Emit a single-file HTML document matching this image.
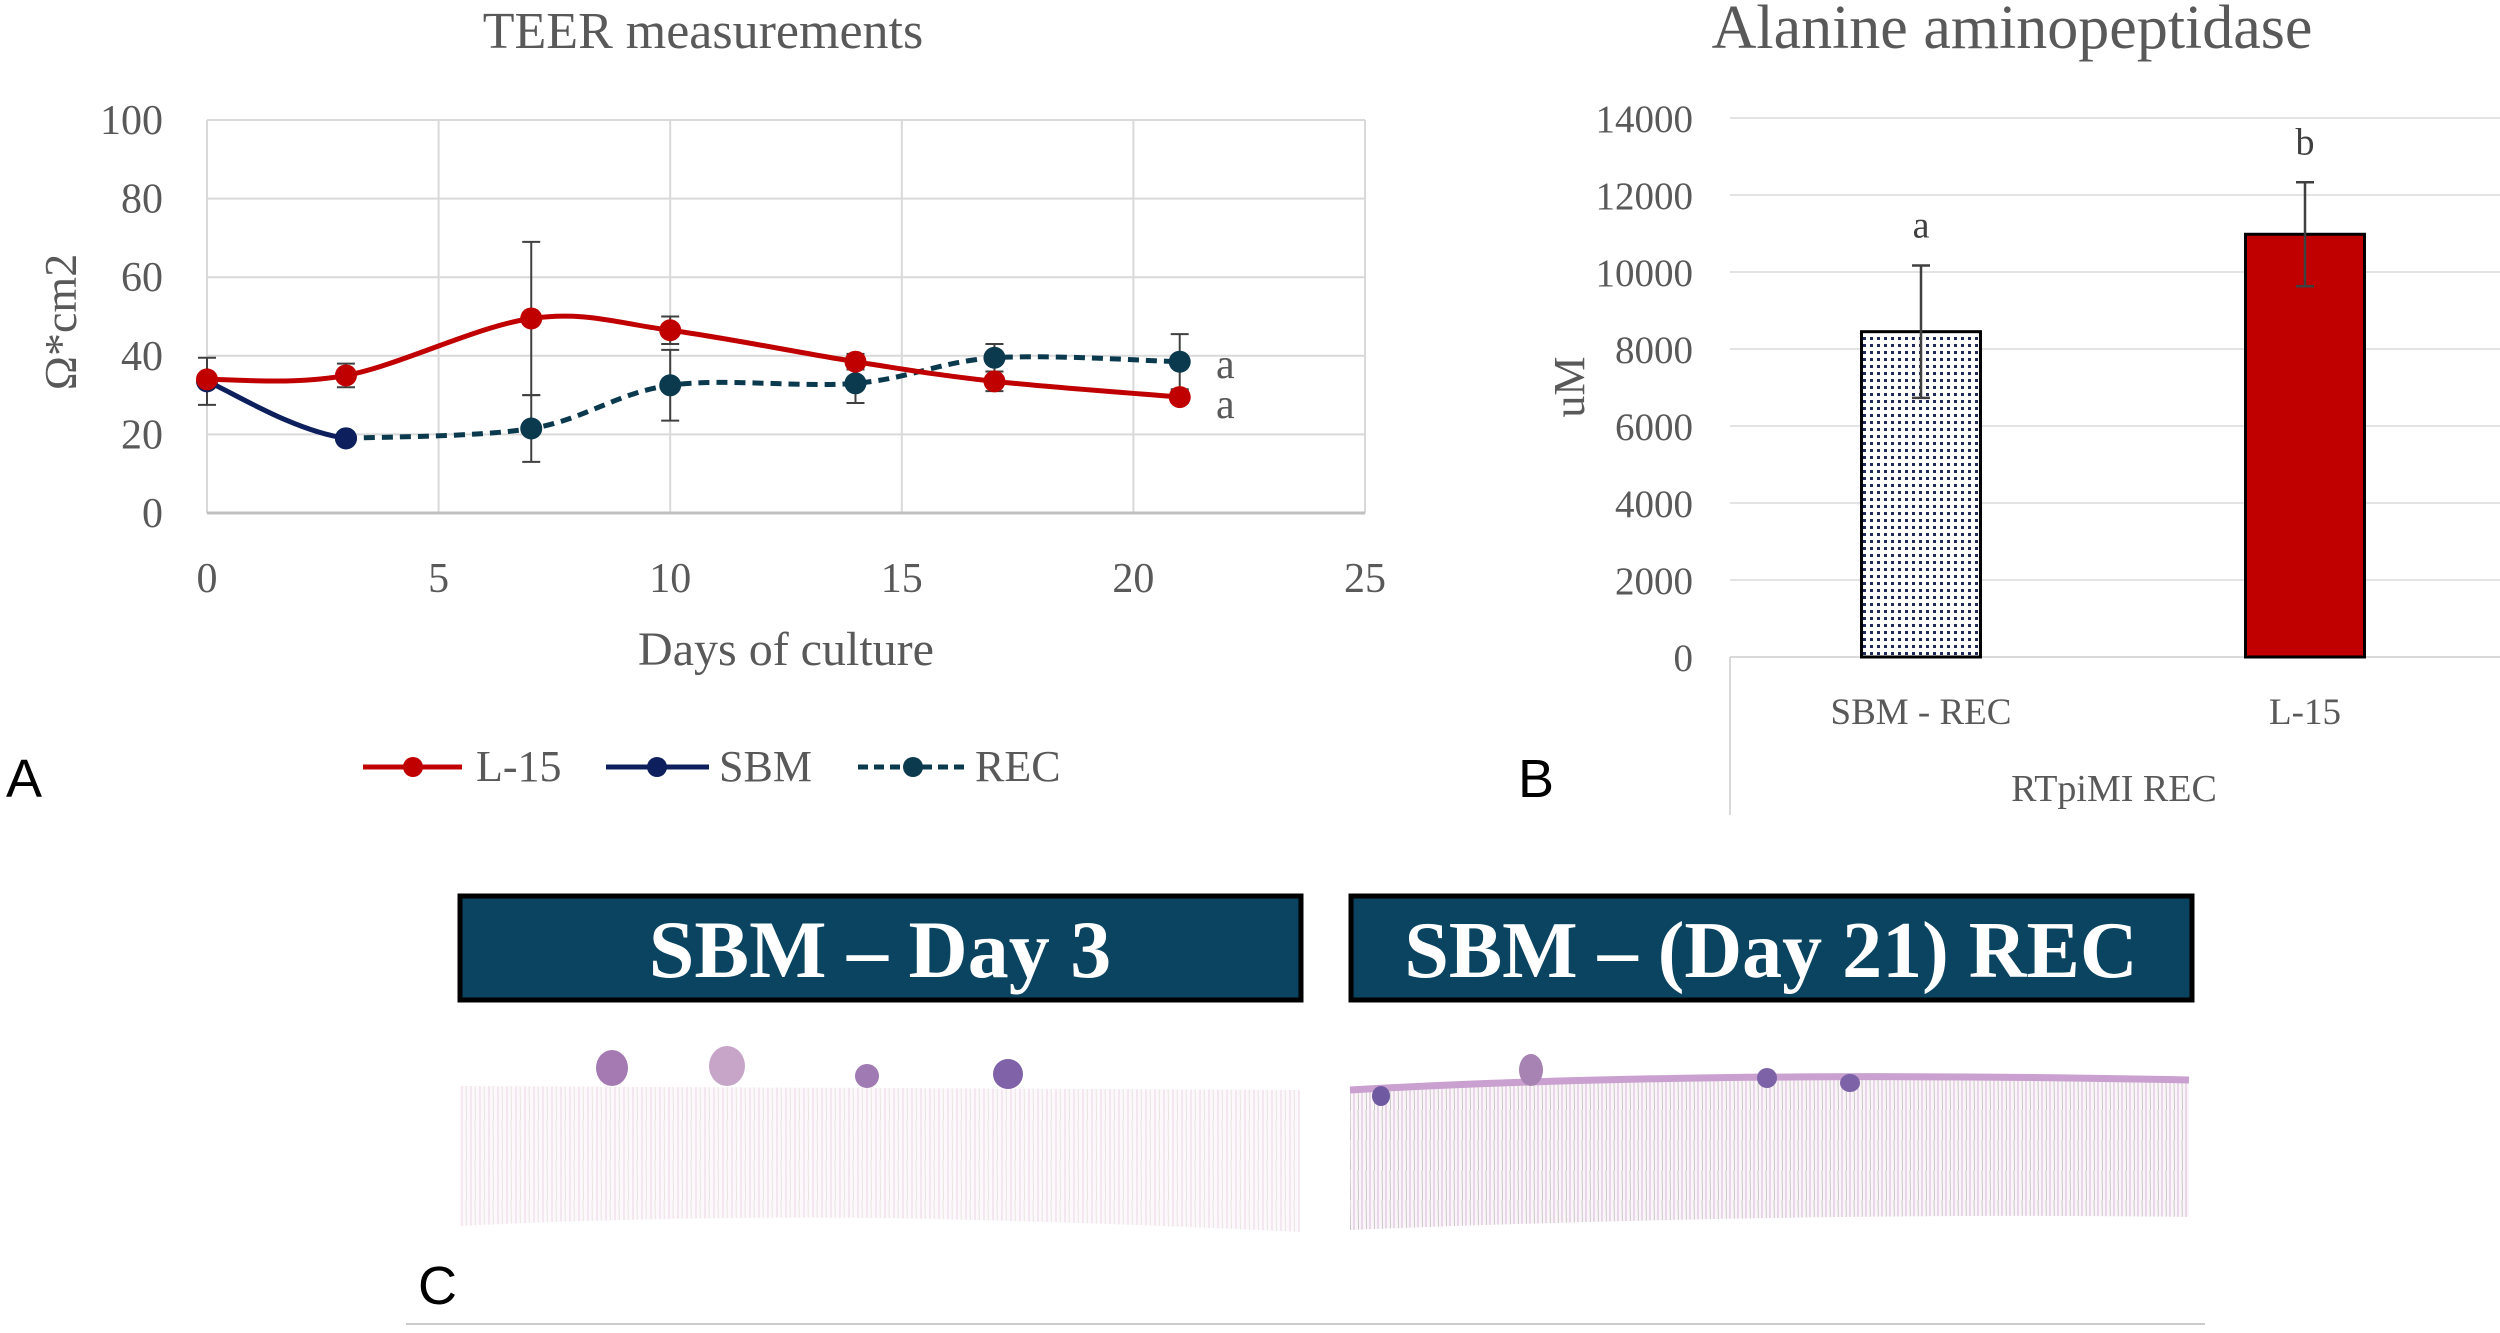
<!DOCTYPE html>
<html><head><meta charset="utf-8">
<style>
html,body{margin:0;padding:0;background:#fff;}
svg{display:block;font-family:"Liberation Serif",serif;}
</style></head>
<body>
<svg id="fig" width="2500" height="1333" viewBox="0 0 2500 1333" xmlns="http://www.w3.org/2000/svg">
<defs>
<pattern id="dots" width="7" height="7" patternUnits="userSpaceOnUse">
<rect width="7" height="7" fill="#fff"/><rect x="1" y="1" width="3" height="3" fill="#1f2a5a"/>
</pattern>
<pattern id="tissue1" width="9" height="40" patternUnits="userSpaceOnUse">
<rect width="9" height="40" fill="#fdf8fb"/><line x1="3" y1="0" x2="3" y2="40" stroke="#ecd6e6" stroke-width="1"/><line x1="7" y1="0" x2="7.5" y2="40" stroke="#e2e0da" stroke-width="0.8"/>
</pattern>
<pattern id="tissue2" width="8" height="30" patternUnits="userSpaceOnUse">
<rect width="8" height="30" fill="#fbf5f9"/><line x1="2" y1="0" x2="2" y2="30" stroke="#dcc3da" stroke-width="1.2"/><line x1="6" y1="0" x2="6.5" y2="30" stroke="#c3c4bf" stroke-width="0.9"/>
</pattern>
</defs>

<g>
<text x="703" y="48" font-size="52" fill="#595959" text-anchor="middle">TEER measurements</text>
<g id="gA"></g>
<text x="786" y="665" font-size="48" fill="#595959" text-anchor="middle">Days of culture</text>
<text transform="translate(76,322) rotate(-90)" font-size="46" fill="#595959" text-anchor="middle">Ω*cm2</text>
<text x="1216" y="378" font-size="42" fill="#595959">a</text>
<text x="1216" y="418" font-size="42" fill="#595959">a</text>
<g>
<g>
<line x1="363" y1="767" x2="462" y2="767" stroke="#c00000" stroke-width="5"/><circle cx="413" cy="767" r="10" fill="#c00000"/>
<text x="476" y="781" font-size="44" fill="#595959">L-15</text></g>
<g>
<line x1="606" y1="767" x2="709" y2="767" stroke="#0d1f5c" stroke-width="5"/><circle cx="657" cy="767" r="10" fill="#0d1f5c"/>
<text x="719" y="781" font-size="44" fill="#595959">SBM</text></g>
<g>
<line x1="858" y1="767" x2="968" y2="767" stroke="#0b3a4e" stroke-width="5" stroke-dasharray="10,6"/><circle cx="913" cy="767" r="10" fill="#0b3a4e"/>
<text x="975" y="781" font-size="44" fill="#595959">REC</text></g>
</g>
<text x="6" y="797" font-size="54" fill="#000" font-family="Liberation Sans, sans-serif">A</text>
</g>

<g>
<text x="2012" y="48" font-size="62" fill="#595959" text-anchor="middle">Alanine aminopeptidase</text>
<g id="gB"></g>
<text transform="translate(1584,387) rotate(-90)" font-size="44" fill="#595959" text-anchor="middle">uM</text>
<line x1="1730" y1="657" x2="1730" y2="815" stroke="#d9d9d9" stroke-width="2"/>
<text x="2114" y="801" font-size="38" fill="#595959" text-anchor="middle">RTpiMI REC</text>
<text x="1518" y="797" font-size="54" fill="#000" font-family="Liberation Sans, sans-serif">B</text>
</g>

<g>
<g>
<rect x="460" y="896" width="841" height="104" fill="#0b4460" stroke="#000" stroke-width="5"/>
<text x="880" y="977" font-size="82" font-weight="bold" fill="#fff" text-anchor="middle">SBM – Day 3</text>
</g>
<g>
<rect x="1351" y="896" width="841" height="104" fill="#0b4460" stroke="#000" stroke-width="5"/>
<text x="1771" y="977" font-size="80" font-weight="bold" fill="#fff" text-anchor="middle">SBM – (Day 21) REC</text>
</g>
<g>
<path d="M459,1086 L1300,1090 L1300,1232 Q1100,1222 880,1218 Q660,1216 459,1226 Z" fill="url(#tissue1)"/>
<ellipse cx="612" cy="1068" rx="16" ry="18" fill="#a57ab3"/>
<ellipse cx="727" cy="1066" rx="18" ry="20" fill="#c6a5c9"/>
<ellipse cx="867" cy="1076" rx="12" ry="12" fill="#a07ab2"/>
<ellipse cx="1008" cy="1074" rx="15" ry="15" fill="#7f62a8"/>
</g>
<g>
<path d="M1350,1090 Q1700,1075 2189,1078 L2189,1217 Q1800,1212 1350,1230 Z" fill="url(#tissue2)"/>
<path d="M1350,1090 Q1700,1070 2189,1080" stroke="#c9a0cf" stroke-width="7" fill="none"/>
<ellipse cx="1381" cy="1096" rx="9" ry="10" fill="#6f59a0"/>
<ellipse cx="1531" cy="1070" rx="12" ry="16" fill="#a783b4"/>
<ellipse cx="1767" cy="1078" rx="10" ry="10" fill="#7d62a8"/>
<ellipse cx="1850" cy="1083" rx="10" ry="9" fill="#7d62a8"/>
</g>
<text x="418" y="1304" font-size="54" fill="#000" font-family="Liberation Sans, sans-serif">C</text>
<line x1="406" y1="1324" x2="2205" y2="1324" stroke="#cccccc" stroke-width="2"/>
</g>
</svg>

<script>
const xTicksA = [0, 5, 10, 15, 20, 25];
const yTicksA = [0, 20, 40, 60, 80, 100];
const l15Days = [0, 3, 7, 10, 14, 17, 21];
const l15Values = [34, 35, 49.5, 46.5, 38.5, 33.5, 29.5];
const l15Errors = [0, 3, 19.5, 3.5, 2, 2.5, 1.5];
const sbmDays = [0, 3];
const sbmValues = [33.5, 19];
const sbmErrors = [6, 0];
const recDays = [3, 7, 10, 14, 17, 21];
const recValues = [19, 21.5, 32.5, 33, 39.5, 38.5];
const recErrors = [0, 8.5, 9, 5, 3.5, 7];

const categoriesB = ["SBM - REC", "L-15"];
const valuesB = [8450, 10980];
const errorsB = [1720, 1350];
const lettersB = ["a", "b"];
const yTicksB = [0, 2000, 4000, 6000, 8000, 10000, 12000, 14000];

const NS = "http://www.w3.org/2000/svg";
function mk(tag, attrs, parent) {
  const e = document.createElementNS(NS, tag);
  for (const k in attrs) e.setAttribute(k, attrs[k]);
  parent.appendChild(e);
  return e;
}
const xA = d => 207 + d / 25 * (1365 - 207);
const yA = v => 513 - v / 100 * (513 - 120);
const gA = document.getElementById("gA");

xTicksA.forEach(t => {
  const l = mk("line", {x1: xA(t), y1: yA(100), x2: xA(t), y2: yA(0), stroke: "#d9d9d9", "stroke-width": 2}, gA);
  
  
  const tx = mk("text", {x: xA(t), y: 592, "font-size": 42, fill: "#595959", "text-anchor": "middle"}, gA);
  tx.textContent = t;
  
  
});
yTicksA.forEach(t => {
  const l = mk("line", {x1: xA(0), y1: yA(t), x2: xA(25), y2: yA(t), stroke: t === 0 ? "#bfbfbf" : "#d9d9d9", "stroke-width": t === 0 ? 3 : 2}, gA);
  
  
  const tx = mk("text", {x: 163, y: yA(t) + 14, "font-size": 42, fill: "#595959", "text-anchor": "end"}, gA);
  tx.textContent = t;
  
  
});

function smoothPath(pts, nextPt) {
  let d = `M${pts[0][0]},${pts[0][1]}`;
  for (let i = 0; i < pts.length - 1; i++) {
    const p0 = pts[i - 1] || pts[i], p1 = pts[i], p2 = pts[i + 1], p3 = pts[i + 2] || nextPt || p2;
    const c1 = [p1[0] + (p2[0] - p0[0]) / 6, p1[1] + (p2[1] - p0[1]) / 6];
    const c2 = [p2[0] - (p3[0] - p1[0]) / 6, p2[1] - (p3[1] - p1[1]) / 6];
    d += ` C${c1[0]},${c1[1]} ${c2[0]},${c2[1]} ${p2[0]},${p2[1]}`;
  }
  return d;
}
function errBars(days, vals, errs, name) {
  days.forEach((d, i) => {
    if (!errs[i]) return;
    const x = xA(d), y1 = yA(vals[i] + errs[i]), y2 = yA(vals[i] - errs[i]);
    const g = mk("g", {stroke: "#404040", "stroke-width": 2}, gA);
    
    
    mk("line", {x1: x, y1: y1, x2: x, y2: y2}, g);
    mk("line", {x1: x - 9, y1: y1, x2: x + 9, y2: y1}, g);
    mk("line", {x1: x - 9, y1: y2, x2: x + 9, y2: y2}, g);
  });
}
function series(days, vals, errs, color, dash, name, nextPt) {
  errBars(days, vals, errs, name);
  const pts = days.map((d, i) => [xA(d), yA(vals[i])]);
  const p = mk("path", {d: smoothPath(pts, nextPt), fill: "none", stroke: color, "stroke-width": 5, "stroke-dasharray": dash || "none"}, gA);
  
  
  pts.forEach(pt => {
    const c = mk("circle", {cx: pt[0], cy: pt[1], r: 11, fill: color}, gA);
    
    
  });
}
series(recDays, recValues, recErrors, "#0b3a4e", "11,7", "rec");
series(sbmDays, sbmValues, sbmErrors, "#0d1f5c", null, "sbm", [xA(recDays[1]), yA(recValues[1])]);
series(l15Days, l15Values, l15Errors, "#c00000", null, "l15");

const gB = document.getElementById("gB");
const yB = v => 657 - v / 14000 * (657 - 118);
const xCenters = i => 1921 + i * 384;
yTicksB.forEach(t => {
  const l = mk("line", {x1: 1730, y1: yB(t), x2: 2500, y2: yB(t), stroke: t === 0 ? "#d9d9d9" : "#e3e3e3", "stroke-width": 2}, gB);
  
  
  const tx = mk("text", {x: 1693, y: yB(t) + 14, "font-size": 39, fill: "#595959", "text-anchor": "end"}, gB);
  tx.textContent = t;
  
  
});
categoriesB.forEach((c, i) => {
  const cx = xCenters(i), w = 119;
  const r = mk("rect", {x: cx - w / 2, y: yB(valuesB[i]), width: w, height: yB(0) - yB(valuesB[i]), fill: i === 0 ? "url(#dots)" : "#c00000", stroke: "#000", "stroke-width": 3}, gB);
  
  
  const g = mk("g", {stroke: "#404040", "stroke-width": 2.5}, gB);
  
  
  const y1 = yB(valuesB[i] + errorsB[i]), y2 = yB(valuesB[i] - errorsB[i]);
  mk("line", {x1: cx, y1: y1, x2: cx, y2: y2}, g);
  mk("line", {x1: cx - 9, y1: y1, x2: cx + 9, y2: y1}, g);
  mk("line", {x1: cx - 9, y1: y2, x2: cx + 9, y2: y2}, g);
  const lt = mk("text", {x: cx, y: y1 - 28, "font-size": 38, fill: "#404040", "text-anchor": "middle"}, gB);
  lt.textContent = lettersB[i];
  
  
  const ct = mk("text", {x: cx, y: 724, "font-size": 37, fill: "#595959", "text-anchor": "middle"}, gB);
  ct.textContent = c;
  
  
});
</script>
</body></html>
